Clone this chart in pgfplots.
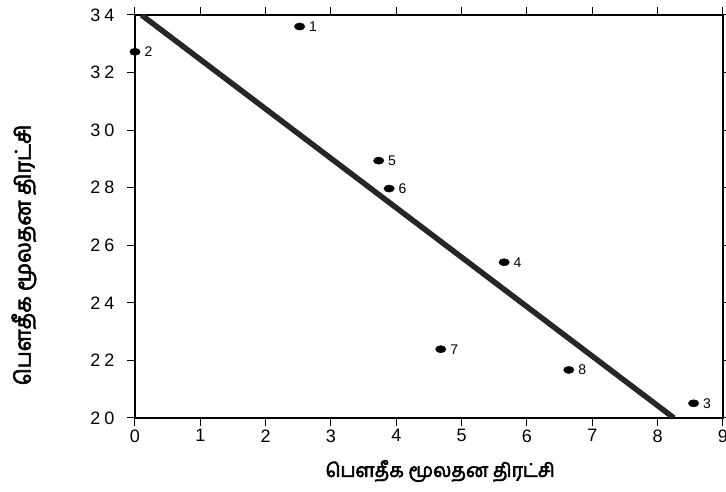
\documentclass[border=0pt]{standalone}
\usepackage{fontspec}
\setmainfont{Liberation Sans}
\newfontfamily\tamil[Script=Tamil,AutoFakeBold=3]{Hind Madurai}
\usepackage{pgfplots}
\pgfplotsset{compat=1.18}
\begin{document}
\begin{tikzpicture}
\begin{axis}[
  scale only axis, width=588pt, height=403pt,
  xmin=0, xmax=9, ymin=20, ymax=34,
  xtick={0,1,...,9}, ytick={20,22,...,34},
  yticklabels={2\hspace{4pt}0,2\hspace{4pt}2,2\hspace{4pt}4,2\hspace{4pt}6,2\hspace{4pt}8,3\hspace{4pt}0,3\hspace{4pt}2,3\hspace{4pt}4},
  tick align=outside, major tick length=8pt,
  tick style={line width=1pt, black},
  axis line style={line width=1.3pt},
  tick label style={font=\fontsize{18}{21}\selectfont},
  yticklabel style={xshift=-9pt},
  /pgf/number format/assume math mode=true,
  xlabel={\tamil\bfseries பௌதீக மூலதன திரட்சி},
  ylabel={\tamil\bfseries பௌதீக மூலதன திரட்சி},
  xlabel style={at={(axis description cs:0.519,-0.1315)}, anchor=center, font=\fontsize{19}{19}\selectfont},
  ylabel style={at={(axis description cs:-0.189,0.4045)}, anchor=center, font=\fontsize{21.6}{21.6}\selectfont},
]
\addplot[line width=5.5pt, black!85] coordinates {(0.1,34) (8.25,20)};
\addplot[only marks, mark=*, mark size=3.6pt, mark options={xscale=1.45, fill=black, draw=black},
  nodes near coords, point meta=explicit symbolic,
  nodes near coords style={anchor=west, font=\fontsize{14}{14}\selectfont, xshift=6pt, text=black}]
  table[meta=label] {
x y label
2.52 33.60 1
0.00 32.72 2
8.55 20.51 3
5.65 25.41 4
3.73 28.94 5
3.89 27.97 6
4.68 22.39 7
6.64 21.67 8
};
\end{axis}
\pgfresetboundingbox
\path[use as bounding box] (-135pt,-74pt) rectangle (591pt,418pt);
\end{tikzpicture}
\end{document}
